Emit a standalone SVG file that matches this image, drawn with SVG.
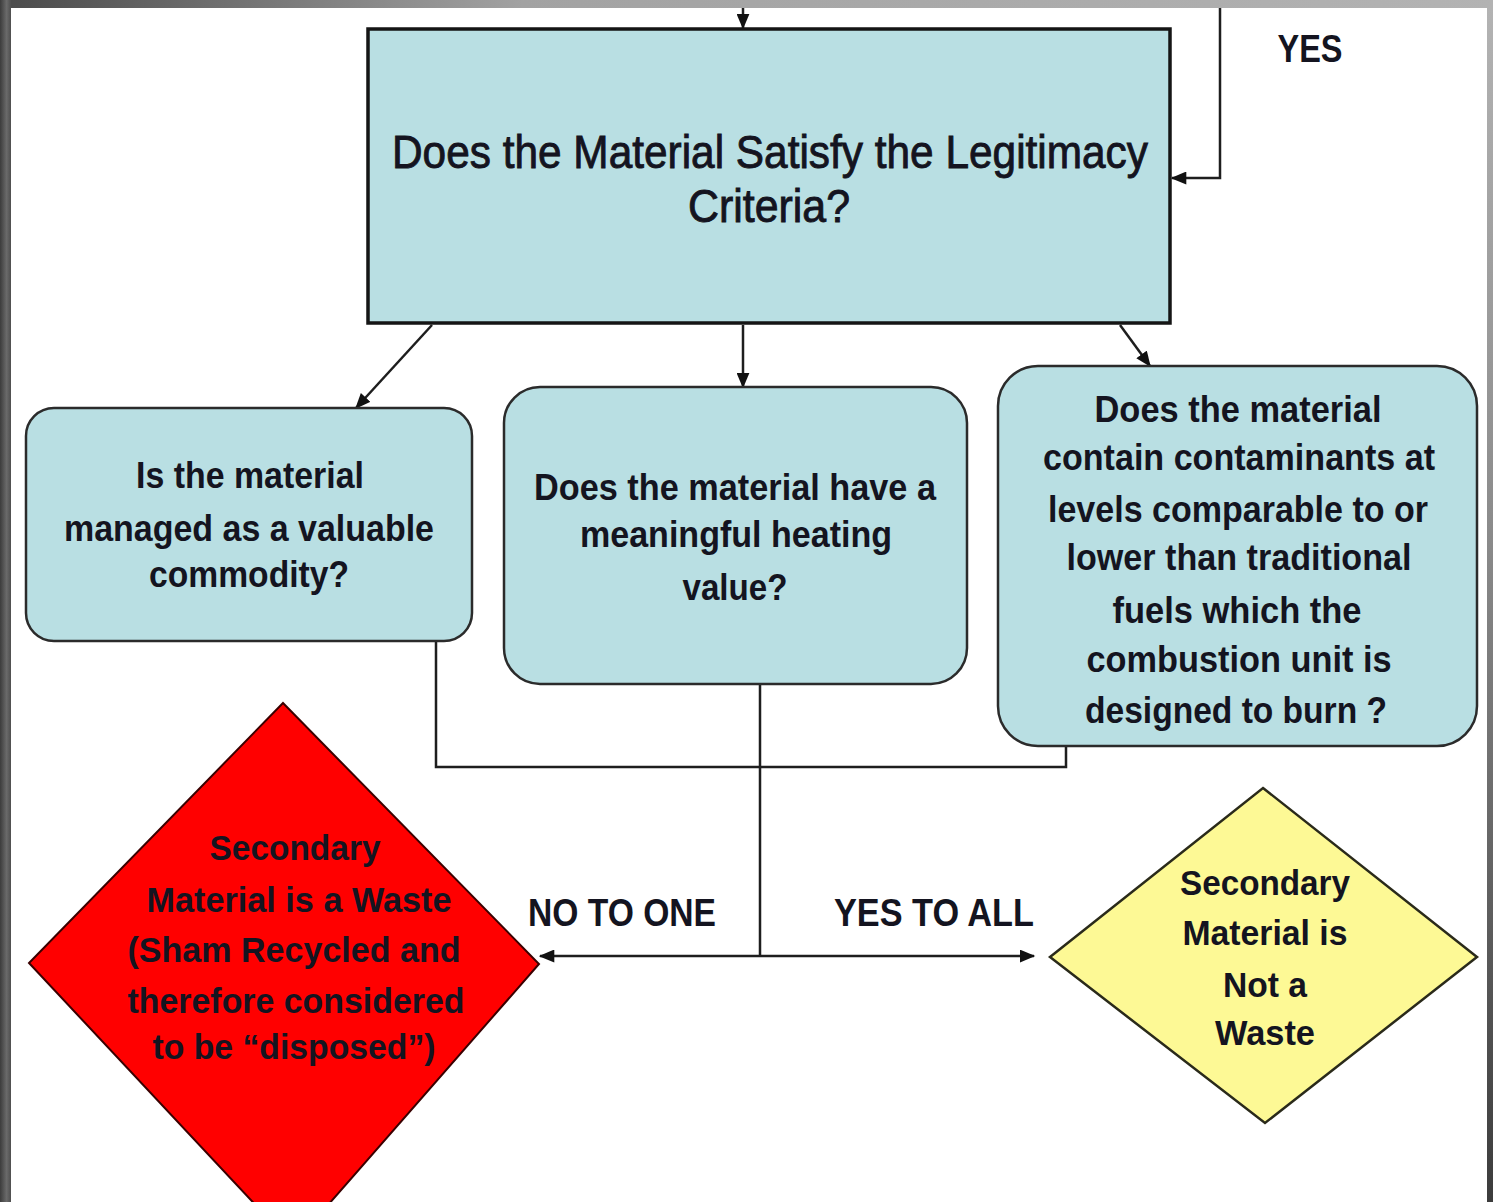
<svg xmlns="http://www.w3.org/2000/svg" width="1493" height="1202" viewBox="0 0 1493 1202">
  <defs>
    <linearGradient id="frameTop" x1="0" y1="0" x2="1" y2="0">
      <stop offset="0" stop-color="#4a4a4a"/>
      <stop offset="0.35" stop-color="#a2a2a2"/>
      <stop offset="1" stop-color="#b3b3b3"/>
    </linearGradient>
    <linearGradient id="frameLeft" x1="0" y1="0" x2="1" y2="0">
      <stop offset="0" stop-color="#3c3c3c"/>
      <stop offset="0.6" stop-color="#6a6a6a"/>
      <stop offset="1" stop-color="#4e4e4e"/>
    </linearGradient>
    <linearGradient id="frameRight" x1="0" y1="0" x2="0" y2="1">
      <stop offset="0" stop-color="#b3b3b3"/>
      <stop offset="0.45" stop-color="#8a8a8a"/>
      <stop offset="1" stop-color="#3c3c3c"/>
    </linearGradient>
    <marker id="arrow" viewBox="0 0 12 10" refX="11" refY="5" markerWidth="16" markerHeight="13" markerUnits="userSpaceOnUse" orient="auto">
      <path d="M0,0 L12,5 L0,10 Z" fill="#111"/>
    </marker>
    <style>
      .box { fill: #b9dfe3; stroke: #2b2b2b; stroke-width: 2.5; }
      .main { fill: #b9dfe3; stroke: #151515; stroke-width: 3.5; }
      .conn { fill: none; stroke: #1e1e1e; stroke-width: 2.5; }
      .t { font-family: "Liberation Sans", Arial, sans-serif; text-anchor: middle; fill: #141420; }
      .title { font-size: 47px; stroke: #141420; stroke-width: 0.9; }
      .q { font-size: 36px; font-weight: bold; }
      .d { font-size: 35px; font-weight: bold; }
      .lbl { font-size: 39px; font-weight: bold; }
    </style>
  </defs>

  <!-- page and frame -->
  <rect x="0" y="0" width="1493" height="1202" fill="#ffffff"/>
  <rect x="0" y="0" width="1493" height="8" fill="url(#frameTop)"/>
  <rect x="0" y="0" width="11" height="1202" fill="url(#frameLeft)"/>
  <rect x="1487" y="8" width="6" height="1194" fill="url(#frameRight)"/>

  <!-- connectors -->
  <g id="connectors">
    <line class="conn" x1="743" y1="8" x2="743" y2="28" marker-end="url(#arrow)"/>
    <polyline class="conn" stroke="#444" points="1220,8 1220,178 1172,178" marker-end="url(#arrow)"/>
    <line class="conn" x1="432" y1="325" x2="356" y2="408" marker-end="url(#arrow)"/>
    <line class="conn" x1="743" y1="325" x2="743" y2="387" marker-end="url(#arrow)"/>
    <line class="conn" x1="1120" y1="325" x2="1150" y2="366" marker-end="url(#arrow)"/>
    <polyline class="conn" points="436,642 436,767 1066,767 1066,747"/>
    <line class="conn" x1="760" y1="685" x2="760" y2="956"/>
    <line class="conn" x1="760" y1="956" x2="540" y2="956" marker-end="url(#arrow)"/>
    <line class="conn" x1="760" y1="956" x2="1034" y2="956" marker-end="url(#arrow)"/>
    <text class="t lbl" x="1310" y="62" textLength="65" lengthAdjust="spacingAndGlyphs">YES</text>
    <text class="t lbl" x="622" y="926" textLength="188" lengthAdjust="spacingAndGlyphs">NO TO ONE</text>
    <text class="t lbl" x="934" y="926" textLength="200" lengthAdjust="spacingAndGlyphs">YES TO ALL</text>
  </g>

  <!-- legitimacy question -->
  <g id="legitimacy">
    <rect class="main" x="368" y="29" width="802" height="294"/>
    <text class="t title" x="770" y="168" textLength="756" lengthAdjust="spacingAndGlyphs">Does the Material Satisfy the Legitimacy</text>
    <text class="t title" x="769" y="222" textLength="162" lengthAdjust="spacingAndGlyphs">Criteria?</text>
  </g>

  <!-- criterion 1 -->
  <g id="commodity">
    <rect class="box" x="26" y="408" width="446" height="233" rx="28" ry="28"/>
    <text class="t q" x="250" y="488" textLength="228" lengthAdjust="spacingAndGlyphs">Is the material</text>
    <text class="t q" x="249" y="541" textLength="370" lengthAdjust="spacingAndGlyphs">managed as a valuable</text>
    <text class="t q" x="249" y="587" textLength="200" lengthAdjust="spacingAndGlyphs">commodity?</text>
  </g>

  <!-- criterion 2 -->
  <g id="heating">
    <rect class="box" x="504" y="387" width="463" height="297" rx="36" ry="36"/>
    <text class="t q" x="735" y="500" textLength="402" lengthAdjust="spacingAndGlyphs">Does the material have a</text>
    <text class="t q" x="736" y="547" textLength="312" lengthAdjust="spacingAndGlyphs">meaningful heating</text>
    <text class="t q" x="735" y="600" textLength="105" lengthAdjust="spacingAndGlyphs">value?</text>
  </g>

  <!-- criterion 3 -->
  <g id="contaminants">
    <rect class="box" x="998" y="366" width="479" height="380" rx="40" ry="40"/>
    <text class="t q" x="1238" y="422" textLength="287" lengthAdjust="spacingAndGlyphs">Does the material</text>
    <text class="t q" x="1239" y="470" textLength="392" lengthAdjust="spacingAndGlyphs">contain contaminants at</text>
    <text class="t q" x="1238" y="522" textLength="380" lengthAdjust="spacingAndGlyphs">levels comparable to or</text>
    <text class="t q" x="1239" y="570" textLength="345" lengthAdjust="spacingAndGlyphs">lower than traditional</text>
    <text class="t q" x="1237" y="623" textLength="249" lengthAdjust="spacingAndGlyphs">fuels which the</text>
    <text class="t q" x="1239" y="672" textLength="305" lengthAdjust="spacingAndGlyphs">combustion unit is</text>
    <text class="t q" x="1236" y="723" textLength="302" lengthAdjust="spacingAndGlyphs">designed to burn ?</text>
  </g>

  <!-- outcome: waste -->
  <g id="waste">
    <polygon points="283,703 539,964 293,1245 29,963" fill="#ff0000" stroke="#3a0000" stroke-width="2"/>
    <text class="t d" fill="#1a0000" x="295" y="860" textLength="171" lengthAdjust="spacingAndGlyphs">Secondary</text>
    <text class="t d" fill="#1a0000" x="299" y="912" textLength="305" lengthAdjust="spacingAndGlyphs">Material is a Waste</text>
    <text class="t d" fill="#1a0000" x="294" y="962" textLength="333" lengthAdjust="spacingAndGlyphs">(Sham Recycled and</text>
    <text class="t d" fill="#1a0000" x="296" y="1013" textLength="337" lengthAdjust="spacingAndGlyphs">therefore considered</text>
    <text class="t d" fill="#1a0000" x="294" y="1059" textLength="283" lengthAdjust="spacingAndGlyphs">to be “disposed”)</text>
  </g>

  <!-- outcome: not a waste -->
  <g id="not-waste">
    <polygon points="1263,788 1477,957 1265,1123 1050,957" fill="#fdf995" stroke="#2a2a1a" stroke-width="2.5"/>
    <text class="t d" x="1265" y="895" textLength="170" lengthAdjust="spacingAndGlyphs">Secondary</text>
    <text class="t d" x="1265" y="945" textLength="165" lengthAdjust="spacingAndGlyphs">Material is</text>
    <text class="t d" x="1265" y="997" textLength="84" lengthAdjust="spacingAndGlyphs">Not a</text>
    <text class="t d" x="1265" y="1045" textLength="100" lengthAdjust="spacingAndGlyphs">Waste</text>
  </g>
</svg>
